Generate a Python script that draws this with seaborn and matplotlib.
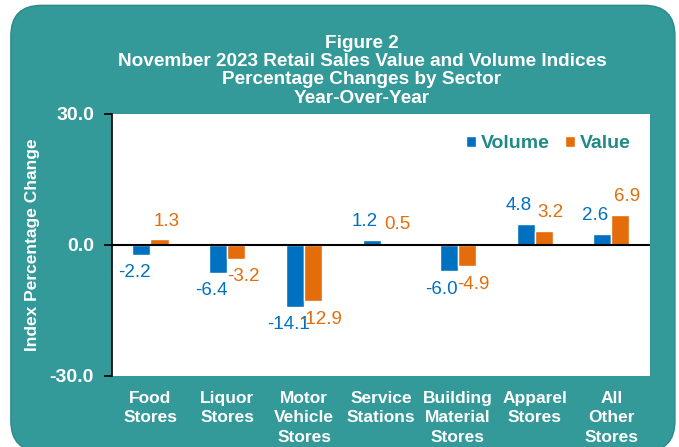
import numpy as np
import pandas as pd
import matplotlib.pyplot as plt
import seaborn as sns
from matplotlib.patches import FancyBboxPatch

# Data
sectors = ["Food\nStores", "Liquor\nStores", "Motor\nVehicle\nStores", "Service\nStations",
           "Building\nMaterial\nStores", "Apparel\nStores", "All\nOther\nStores"]
volume = [-2.2, -6.4, -14.1, 1.2, -6.0, 4.8, 2.6]
value = [1.3, -3.2, -12.9, 0.5, -4.9, 3.2, 6.9]
series = ["Volume", "Value"]
y_ticks = [-30.0, 0.0, 30.0]

TEAL = "#339999"
BLUE = "#0070C0"
ORANGE = "#E46C0A"

df = pd.DataFrame({
    "sector": sectors * 2,
    "series": [series[0]] * len(sectors) + [series[1]] * len(sectors),
    "change": volume + value,
})

sns.set_style("white")
plt.rcParams['font.family'] = ['Liberation Sans', 'DejaVu Sans']

fig = plt.figure(figsize=(6.79, 4.47), dpi=100, facecolor="white")

# rounded teal panel behind everything
panel = FancyBboxPatch((0.016, -0.01), 0.978, 0.998, boxstyle="round,pad=0,rounding_size=0.045",
                       transform=fig.transFigure, facecolor=TEAL, edgecolor="#2a8a8a",
                       linewidth=1.0, mutation_aspect=679 / 447, zorder=-10)
fig.patches.append(panel)

ax = fig.add_axes([0.165, 0.159, 0.792, 0.586])
ax.set_facecolor("white")

sns.barplot(data=df, x="sector", y="change", hue="series", hue_order=series,
            palette=[BLUE, ORANGE], width=0.47, saturation=1, ax=ax, zorder=2)

ax.set_ylim(-30, 30)
ax.set_yticks(y_ticks)
ax.set_yticklabels([f"{t:.1f}" for t in y_ticks], color="white", fontweight="bold", fontsize=14)
ax.tick_params(axis="y", direction="out", length=6, width=1.2, color="black", left=True, pad=7)
ax.tick_params(axis="x", length=0, pad=11)
for lbl in ax.get_xticklabels():
    lbl.set_color("white")
    lbl.set_fontweight("bold")
    lbl.set_fontsize(12.5)
    lbl.set_linespacing(1.35)

ax.axhline(0, color="black", linewidth=1.5, zorder=3)
for side in ["top", "right", "bottom"]:
    ax.spines[side].set_visible(False)
ax.spines["left"].set_color("black")
ax.spines["left"].set_linewidth(1.2)

ax.set_xlabel("")
ax.set_ylabel("Index Percentage Change", color="white", fontweight="bold", fontsize=12.5, labelpad=7)

# value labels, nudged apart sideways like the original
for container, color, dx in zip(ax.containers, [BLUE, ORANGE], [-5, 5]):
    for bar in container:
        h = bar.get_height()
        x = bar.get_x() + bar.get_width() / 2
        dy = 13 if h >= 0 else -13
        ax.annotate(f"{h:.1f}", (x, h), xytext=(dx, dy), textcoords="offset points",
                    ha="center", va="center", color=color, fontsize=13.5)

leg = ax.legend(loc="upper right", bbox_to_anchor=(0.998, 0.985), ncol=2, frameon=False,
                handlelength=0.55, handleheight=0.55, handletextpad=0.25, columnspacing=0.75,
                prop={"weight": "bold", "size": 14})
for txt in leg.get_texts():
    txt.set_color("#1F8A86")

fig.text(0.533, 0.922, "Figure 2\nNovember 2023 Retail Sales Value and Volume Indices\n"
         "Percentage Changes by Sector\nYear-Over-Year",
         ha="center", va="top", color="white", fontweight="bold", fontsize=13.7, linespacing=1.1)

fig.savefig("out.png", dpi=100, facecolor="white")
